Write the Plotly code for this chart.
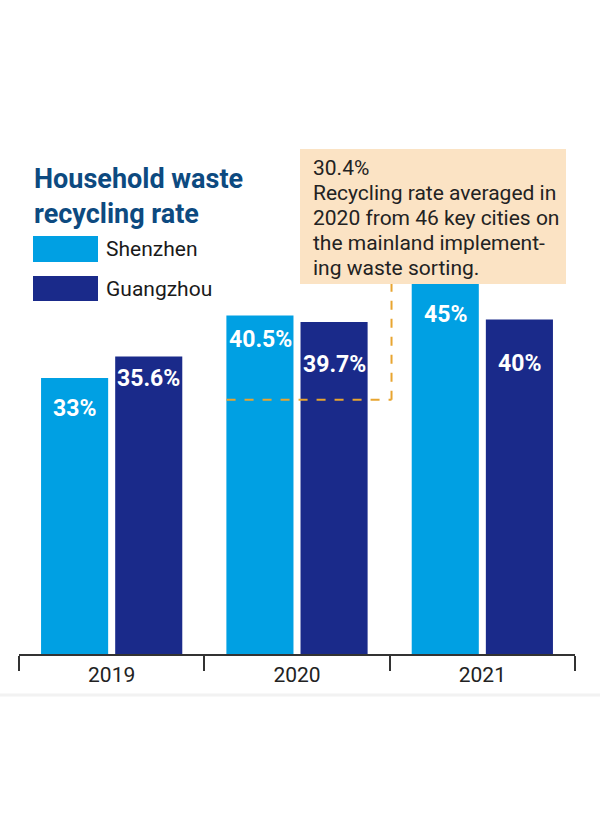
import plotly.graph_objects as go

# ---- data ----
years = ["2019", "2020", "2021"]
shenzhen = [33, 40.5, 45]
guangzhou = [35.6, 39.7, 40]
series_names = ["Shenzhen", "Guangzhou"]
avg_2020 = 30.4
note_lines = ["30.4%", "Recycling rate averaged in", "2020 from 46 key cities on",
              "the mainland implement-", "ing waste sorting."]
title_lines = ["Household waste", "recycling rate"]

# ---- style ----
W, H = 600, 833
ML, MR, MT, MB = 19, 25, 236, 179
PW, PH = W - ML - MR, H - MT - MB
C_SZ = "#00a0e3"
C_GZ = "#1a2a8a"
C_TITLE = "#0d4a80"
C_BOX = "#fbe3c4"
C_DASH = "#e8a530"
FONT = "Roboto"
BAR_SHIFT = 37                      # px from group centre to each bar centre
LABEL_DROP_SZ = [30, 24, 37]        # px below bar top for the value labels
LABEL_DROP_GZ = [22, 42, 44]


def px(x):
    return (x - ML) / PW


def py(y):
    return (H - MB - y) / PH


fig = go.Figure()
for name, vals, col in [(series_names[0], shenzhen, C_SZ), (series_names[1], guangzhou, C_GZ)]:
    fig.add_trace(go.Bar(
        x=years, y=vals, name=name, marker=dict(color=col, line=dict(width=0)),
        hoverinfo="skip",
    ))

shapes = []
shapes.append(dict(type="line", xref="x", yref="y", x0=0.62, x1=1.51, y0=avg_2020, y1=avg_2020,
                   line=dict(color=C_DASH, width=2, dash="dash"), layer="above"))
shapes.append(dict(type="line", xref="x", yref="y", x0=1.51, x1=1.51, y0=avg_2020, y1=47,
                   line=dict(color=C_DASH, width=2, dash="dash"), layer="above"))
shapes.append(dict(type="rect", xref="paper", yref="paper", x0=px(300), x1=px(566), y0=py(284), y1=py(149),
                   fillcolor=C_BOX, line=dict(width=0), layer="above"))
shapes.append(dict(type="rect", xref="paper", yref="paper", x0=px(33), x1=px(98), y0=py(262), y1=py(236),
                   fillcolor=C_SZ, line=dict(width=0)))
shapes.append(dict(type="rect", xref="paper", yref="paper", x0=px(33), x1=px(98), y0=py(301), y1=py(276),
                   fillcolor=C_GZ, line=dict(width=0)))
shapes.append(dict(type="line", xref="paper", yref="paper", x0=px(0), x1=px(600), y0=py(695), y1=py(695),
                   line=dict(color="#f2f2f2", width=3)))

annotations = [
    dict(xref="paper", yref="paper", x=px(32), y=py(161), xanchor="left", yanchor="top",
         text="<br>".join(title_lines), showarrow=False, align="left",
         font=dict(family=FONT, size=27, color=C_TITLE, weight="bold")),
    dict(xref="paper", yref="paper", x=px(104), y=py(249), xanchor="left", yanchor="middle",
         text=series_names[0], showarrow=False, font=dict(family=FONT, size=21, color="#1a1a1a")),
    dict(xref="paper", yref="paper", x=px(104), y=py(289), xanchor="left", yanchor="middle",
         text=series_names[1], showarrow=False, font=dict(family=FONT, size=21, color="#1a1a1a")),
]
for i, line in enumerate(note_lines):
    annotations.append(dict(xref="paper", yref="paper", x=px(311), y=py(168 + 25 * i),
                            xanchor="left", yanchor="middle", text=line, showarrow=False,
                            font=dict(family=FONT, size=21, color="#222222")))

for vals, sign, drops in [(shenzhen, -1, LABEL_DROP_SZ), (guangzhou, 1, LABEL_DROP_GZ)]:
    for idx, (v, d) in enumerate(zip(vals, drops)):
        annotations.append(dict(xref="x", yref="y", x=idx, y=v, xshift=sign * BAR_SHIFT, yshift=-d,
                                xanchor="center", yanchor="middle", text=f"{v:g}%", showarrow=False,
                                font=dict(family=FONT, size=23, color="white", weight="bold")))

fig.update_layout(
    width=W, height=H, margin=dict(l=ML, r=MR, t=MT, b=MB, pad=0),
    paper_bgcolor="white", plot_bgcolor="white",
    barmode="group", bargap=0.2, bargroupgap=0.095,
    showlegend=False, shapes=shapes, annotations=annotations,
    xaxis=dict(type="category", range=[-0.5, 2.5], showline=True, linecolor="#333333", linewidth=1.5,
               ticks="outside", tickson="boundaries", ticklen=15, tickcolor="#333333", tickwidth=1.5,
               ticklabelstandoff=1, showgrid=False, zeroline=False,
               tickfont=dict(family=FONT, size=21, color="#222222")),
    yaxis=dict(range=[0, 50], visible=False, showgrid=False, zeroline=False),
)

fig.write_html("out.html")
